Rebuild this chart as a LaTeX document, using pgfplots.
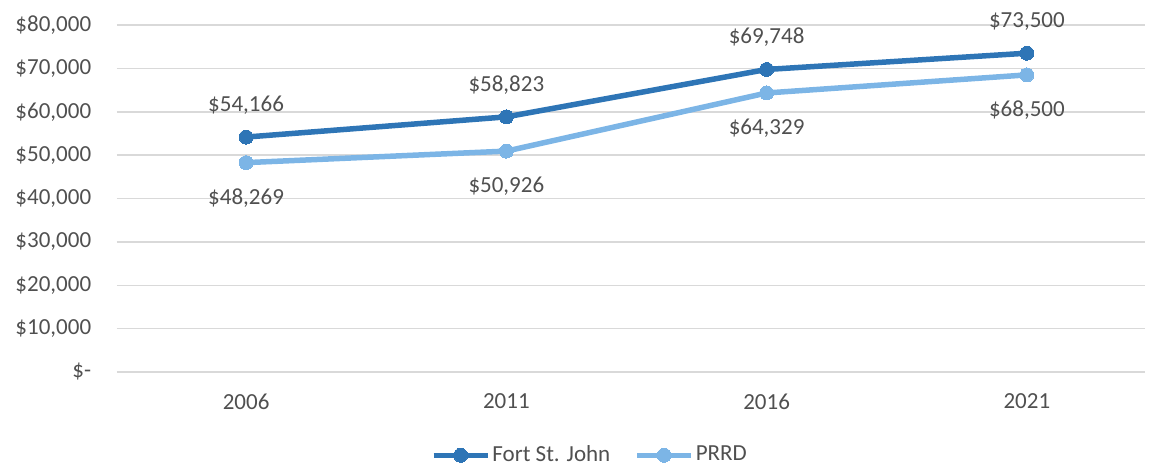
\documentclass[border=0pt]{standalone}
\usepackage{pgfplots}
\pgfplotsset{compat=1.18}
\usepackage{pgfplotstable}
\usepackage{fontspec}
\setmainfont{Carlito}
\definecolor{fsj}{HTML}{2E75B6}
\definecolor{prrd}{HTML}{7CB5E6}
\definecolor{txt}{HTML}{505050}
\definecolor{gridc}{HTML}{D9D9D9}
\pgfplotstableread{
x y lab
0 54166 {\$54,166}
1 58823 {\$58,823}
2 69748 {\$69,748}
3 73500 {\$73,500}
}\fsjdata
\pgfplotstableread{
x y lab
0 48269 {\$48,269}
1 50926 {\$50,926}
2 64329 {\$64,329}
3 68500 {\$68,500}
}\prrddata
\begin{document}
\begin{tikzpicture}
\fontsize{23bp}{27bp}\selectfont
\useasboundingbox (-117bp,-94bp) rectangle (1032bp,372bp);
\begin{axis}[
  at={(0,0)}, anchor=south west,
  scale only axis, width=1028bp, height=347bp,
  xmin=-0.496, xmax=3.454, ymin=0, ymax=80000,
  axis line style={draw=none},
  tick style={draw=none},
  scaled y ticks=false,
  xtick={0,1,2,3}, xticklabels={2006,2011,2016,2021},
  ytick={0,10000,20000,30000,40000,50000,60000,70000,80000},
  yticklabels={{\$-},{\$10,000},{\$20,000},{\$30,000},{\$40,000},{\$50,000},{\$60,000},{\$70,000},{\$80,000}},
  ymajorgrids, xmajorgrids=false, major grid style={draw=gridc, line width=1.5bp},
  ticklabel style={text=txt, font=\fontsize{23bp}{27bp}\selectfont},
  yticklabel style={xshift=-18bp},
  xticklabel style={yshift=-14bp},
  clip=false,
  legend style={at={(0.46,-0.24)}, anchor=center, draw=none, legend columns=2,
    font=\fontsize{23bp}{27bp}\selectfont, text=txt,
    /tikz/every even column/.append style={column sep=22bp}},
  legend image code/.code={\draw[#1, mark repeat=2, mark phase=2] plot coordinates {(0bp,0bp) (27bp,0bp) (54bp,0bp)};},
  nodes near coords, point meta=explicit symbolic,
  every node near coord/.append style={text=txt, font=\fontsize{23bp}{27bp}\selectfont},
]
\addplot[fsj, line width=5.5bp, mark=*, mark size=7bp, mark options={fill=fsj, draw=fsj, line width=0pt},
  every node near coord/.append style={anchor=center, yshift=32bp}] table[x=x,y=y,meta=lab] {\fsjdata};
\addlegendentry{Fort St. John}
\addplot[prrd, line width=5.5bp, mark=*, mark size=7bp, mark options={fill=prrd, draw=prrd, line width=0pt},
  every node near coord/.append style={anchor=center, yshift=-35bp}] table[x=x,y=y,meta=lab] {\prrddata};
\addlegendentry{PRRD}
\end{axis}
\end{tikzpicture}
\end{document}
